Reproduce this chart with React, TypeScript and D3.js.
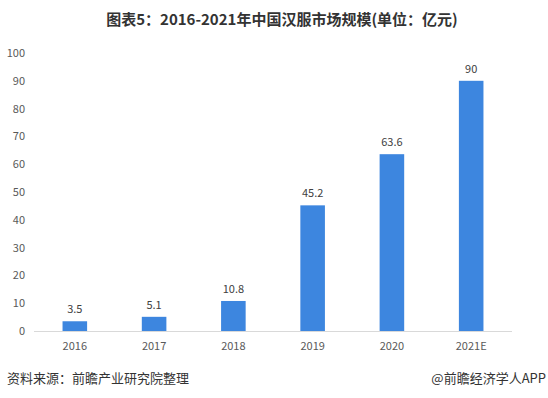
import React from 'react';
import * as d3 from 'd3';

const years = ['2016', '2017', '2018', '2019', '2020', '2021E'];
const values = [3.5, 5.1, 10.8, 45.2, 63.6, 90];
const yTicks = [0, 10, 20, 30, 40, 50, 60, 70, 80, 90, 100];

const title = '图表5：2016-2021年中国汉服市场规模(单位：亿元)';
const source = '资料来源：前瞻产业研究院整理';
const credit = '@前瞻经济学人APP';

export default function App() {
  const width = 548;
  const height = 398;
  const plot = { left: 34, right: 512, top: 53, bottom: 331 };
  const font = '"Noto Sans CJK SC", "Noto Sans", sans-serif';

  const x = d3.scaleBand<string>()
    .domain(years)
    .range([plot.left, plot.right])
    .paddingInner(0.69)
    .paddingOuter(0.36);

  const y = d3.scaleLinear().domain([0, 100]).range([plot.bottom, plot.top]);

  return (
    <div style={{ position: 'fixed', left: 0, top: 0 }}>
      <svg width={width} height={height} style={{ display: 'block', background: '#fff', fontFamily: font }}>
        <text x={width / 2 + 8} y={25} textAnchor="middle" fontSize={15} fontWeight="bold" fill="#333">
          {title}
        </text>

        {yTicks.map(t => (
          <text key={t} x={25} y={y(t) + 4} textAnchor="end" fontSize={11} fill="#595959">{t}</text>
        ))}

        <line x1={plot.left} x2={plot.right} y1={plot.bottom + 0.5} y2={plot.bottom + 0.5} stroke="#d9d9d9" />

        {values.map((v, i) => {
          const bx = x(years[i])!;
          const bw = x.bandwidth();
          return (
            <g key={years[i]}>
              <rect x={bx} y={y(v)} width={bw} height={y(0) - y(v)} fill="#3d86df" />
              <text x={bx + bw / 2} y={y(v) - 8} textAnchor="middle" fontSize={11} fill="#404040">{v}</text>
              <text x={bx + bw / 2} y={plot.bottom + 19} textAnchor="middle" fontSize={11} fill="#595959">{years[i]}</text>
            </g>
          );
        })}

        <text x={7} y={383} fontSize={13} fill="#333">{source}</text>
        <text x={546} y={383} textAnchor="end" fontSize={13} fill="#333">{credit}</text>
      </svg>
    </div>
  );
}
